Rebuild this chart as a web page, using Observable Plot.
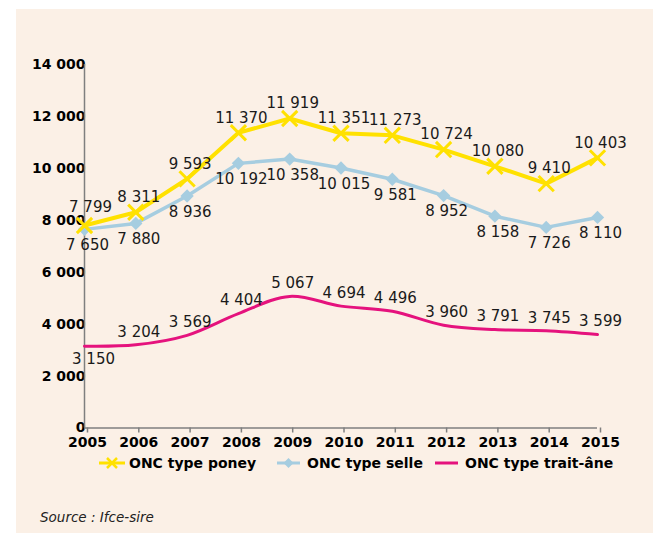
<!DOCTYPE html>
<html>
<head>
<meta charset="utf-8">
<script src="https://cdn.jsdelivr.net/npm/d3@7"></script>
<script src="https://cdn.jsdelivr.net/npm/@observablehq/plot@0.6"></script>
<style>
  html, body { margin: 0; padding: 0; background: #ffffff; }
  #wrap { position: absolute; left: 16px; top: 9px; width: 637px; height: 524px; background: #FBF0E6; font-family: "DejaVu Sans", Verdana, sans-serif; }
  #chart { position: absolute; left: 0; top: 0; }
  .leg { position: absolute; top: 444px; height: 20px; display: flex; align-items: center; font-weight: bold; font-size: 14px; color: #000; white-space: nowrap; }
  .leg svg { display: block; margin-right: 2px; }
  #source { position: absolute; left: 24px; top: 500px; font-style: italic; font-size: 13.5px; color: #222; }
</style>
</head>
<body>
<div id="wrap">
  <div id="chart"></div>
  <div class="leg" style="left:83px">
    <svg width="28" height="16"><line x1="0" y1="8" x2="26" y2="8" stroke="#FFE100" stroke-width="3"/><path d="M8,3L18,13M18,3L8,13" stroke="#FFE100" stroke-width="2.5"/></svg>ONC type poney</div>
  <div class="leg" style="left:261px">
    <svg width="28" height="16"><line x1="0" y1="8" x2="23" y2="8" stroke="#A6CDE0" stroke-width="3"/><path d="M11.5,3L16.5,8L11.5,13L6.5,8Z" fill="#A6CDE0"/></svg>ONC type selle</div>
  <div class="leg" style="left:419px">
    <svg width="28" height="16"><line x1="0" y1="8" x2="23" y2="8" stroke="#E5127D" stroke-width="3"/></svg>ONC type trait-âne</div>
  <div id="source">Source : Ifce-sire</div>
</div>
<script>
const years = [2005, 2006, 2007, 2008, 2009, 2010, 2011, 2012, 2013, 2014, 2015];
const poney = [7799, 8311, 9593, 11370, 11919, 11351, 11273, 10724, 10080, 9410, 10403];
const selle = [7650, 7880, 8936, 10192, 10358, 10015, 9581, 8952, 8158, 7726, 8110];
const traitAne = [3150, 3204, 3569, 4404, 5067, 4694, 4496, 3960, 3791, 3745, 3599];
const yTicks = [0, 2000, 4000, 6000, 8000, 10000, 12000, 14000];

const fmt = v => d3.format(",")(v).replace(/,/g, " ");
const rows = arr => years.map((year, i) => ({year, value: arr[i]}));
const P = rows(poney), S = rows(selle), T = rows(traitAne);

const YELLOW = "#FFE100", BLUE = "#A6CDE0", PINK = "#E5127D", AXIS = "#7F7F7F";
const labelOpts = {x: "year", y: "value", text: d => fmt(d.value), fontSize: 15, fontWeight: "normal", fill: "#1a1a1a", dx: 3};

const chart = Plot.plot({
  width: 637,
  height: 448,
  marginLeft: 68,
  marginRight: 56,
  marginTop: 55,
  marginBottom: 29.5,
  style: {background: "transparent", fontFamily: "DejaVu Sans, Verdana, sans-serif", fontSize: "14px", fontWeight: "bold", color: "#000"},
  x: {domain: [2005, 2015], ticks: years, tickFormat: d => String(d), label: null},
  y: {domain: [0, 14000], ticks: yTicks, tickFormat: fmt, label: null},
  marks: [
    Plot.axisX({ticks: years, tickFormat: d => String(d), tickSize: 5, tickPadding: 4, dx: 3, stroke: AXIS, strokeWidth: 1.5, label: null}),
    Plot.axisY({ticks: yTicks, tickFormat: fmt, tickSize: 0, tickPadding: -1, label: null}),
    Plot.ruleY([0], {stroke: AXIS, strokeWidth: 1.5}),
    Plot.ruleX([2005], {y1: 0, y2: 14000, stroke: AXIS, strokeWidth: 1.5}),
    Plot.line(T, {x: "year", y: "value", stroke: PINK, strokeWidth: 3, curve: "catmull-rom"}),
    Plot.line(S, {x: "year", y: "value", stroke: BLUE, strokeWidth: 3.5}),
    Plot.dot(S, {x: "year", y: "value", symbol: "diamond2", r: 6, fill: BLUE, stroke: "none"}),
    Plot.line(P, {x: "year", y: "value", stroke: YELLOW, strokeWidth: 4}),
    Plot.dot(P, {x: "year", y: "value", symbol: "times", r: 7, stroke: YELLOW, strokeWidth: 3}),
    Plot.text(P.filter(d => d.year !== 2005), {...labelOpts, dy: -15}),
    Plot.text(P.filter(d => d.year === 2005), {...labelOpts, dy: -18, dx: 6}),
    Plot.text(S, {...labelOpts, dy: 16}),
    Plot.text(T.filter(d => d.year !== 2005), {...labelOpts, dy: -13}),
    Plot.text(T.filter(d => d.year === 2005), {...labelOpts, dy: 13, dx: 9})
  ]
});
document.getElementById("chart").appendChild(chart);
</script>
</body>
</html>
